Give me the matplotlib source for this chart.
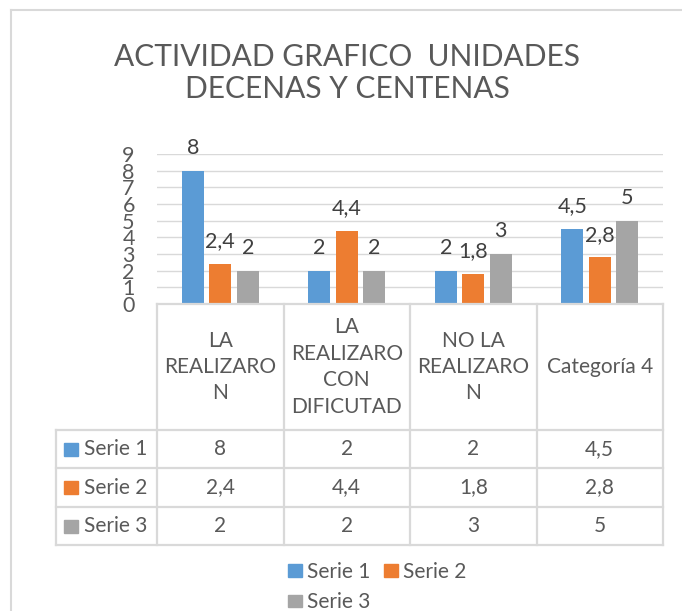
import matplotlib
matplotlib.use("Agg")
import matplotlib.pyplot as plt
from matplotlib.patches import Patch, Rectangle
from matplotlib.lines import Line2D
import numpy as np

# ---------------- DATA ----------------
title = "ACTIVIDAD GRAFICO  UNIDADES\nDECENAS Y CENTENAS"
categories = ["LA\nREALIZARO\nN", "LA\nREALIZARO\nCON\nDIFICUTAD",
              "NO LA\nREALIZARO\nN", "Categoría 4"]
series_names = ["Serie 1", "Serie 2", "Serie 3"]
serie1 = [8, 2, 2, 4.5]
serie2 = [2.4, 4.4, 1.8, 2.8]
serie3 = [2, 2, 3, 5]
yticks = list(range(0, 10))

# ---------------- STYLE ----------------
colors = ["#5B9BD5", "#ED7D31", "#A5A5A5"]
grid_col = "#D9D9D9"
text_col = "#595959"
label_col = "#404040"
plt.rcParams["font.family"] = ["Lato", "DejaVu Sans"]

W, H = 682, 611
fig = plt.figure(figsize=(W / 100, H / 100), dpi=100)


def box(left, top, right, bottom):
    # pixel box -> figure fraction rect
    return [left / W, 1 - bottom / H, (right - left) / W, (bottom - top) / H]


def fmt(v):
    return f"{v:g}".replace(".", ",")


# chart border
fig.add_artist(Line2D([11 / W, 11 / W], [-0.1, 1 - 10 / H], color=grid_col, lw=1.5))
fig.add_artist(Line2D([11 / W, 1.1], [1 - 10 / H, 1 - 10 / H], color=grid_col, lw=1.5))

fig.text(347 / W, 1 - 73 / H, title, ha="center", va="center", fontsize=21.5,
         color=text_col, linespacing=1.14)

# ---------------- BARS ----------------
ax = fig.add_axes(box(157, 154, 663, 304))
x = np.arange(len(categories))
data = [serie1, serie2, serie3]
bw = 0.174
step = 0.217
for i, (vals, col) in enumerate(zip(data, colors)):
    pos = x + (i - 1) * step
    ax.bar(pos, vals, width=bw, color=col, zorder=3)
    for px, v in zip(pos, vals):
        ax.annotate(fmt(v), (px, v), xytext=(0, 12), textcoords="offset points",
                    ha="center", va="baseline", fontsize=15.5, color=label_col)

ax.set_xlim(-0.5, len(categories) - 0.5)
ax.set_ylim(0, 9)
ax.set_yticks(yticks)
# labels are crowded (16px per unit), as in the original chart
ax.set_yticklabels([str(t) for t in yticks], fontsize=15.5, color=text_col)
ax.tick_params(axis="y", length=0, pad=16)
ax.set_xticks([])
for s in ax.spines.values():
    s.set_visible(False)
ax.grid(axis="y", color=grid_col, lw=1, zorder=0)
ax.set_axisbelow(True)
ax.patch.set_alpha(0)

# ---------------- DATA TABLE ----------------
tax = fig.add_axes(box(56, 304, 663, 545))
cat_px = 506 / len(categories)
left_x = -0.5 - (157 - 56) / cat_px
tax.set_xlim(left_x, len(categories) - 0.5)
tax.set_ylim(241, 0)
tax.axis("off")
row_edges = [0, 126, 164, 203, 241]
col_edges = [-0.5 + k for k in range(len(categories) + 1)]
lw_t = 1.6
for xe in col_edges:
    tax.plot([xe, xe], [0, 241], color=grid_col, lw=lw_t, clip_on=False)
tax.plot([left_x, left_x], [row_edges[1], 241], color=grid_col, lw=lw_t, clip_on=False)
tax.plot([-0.5, col_edges[-1]], [0, 0], color=grid_col, lw=lw_t, clip_on=False)
for ye in row_edges[1:]:
    tax.plot([left_x, col_edges[-1]], [ye, ye], color=grid_col, lw=lw_t, clip_on=False)

for j, cat in enumerate(categories):
    tax.text(j, row_edges[1] / 2, cat, ha="center", va="center", fontsize=15,
             color=text_col, linespacing=1.4)

for i, (name, vals, col) in enumerate(zip(series_names, data, colors)):
    yc = (row_edges[i + 1] + row_edges[i + 2]) / 2
    sq_w = 14 / cat_px
    tax.add_patch(Rectangle((left_x + 8 / cat_px, yc - 6.5), sq_w, 13, color=col))
    tax.text(left_x + 28 / cat_px, yc, name, ha="left", va="center", fontsize=15,
             color=text_col)
    for j, v in enumerate(vals):
        tax.text(j, yc, fmt(v), ha="center", va="center", fontsize=15, color=text_col)

# ---------------- LEGEND ----------------
handles = [Patch(color=c, label=n) for c, n in zip(colors, series_names)]
order = [0, 2, 1]
fig.legend([handles[k] for k in order], [series_names[k] for k in order],
           ncol=2, loc="upper left", bbox_to_anchor=(288 / W, 1 - 562 / H),
           frameon=False, fontsize=15, labelcolor=text_col,
           handlelength=0.68, handleheight=0.55, handletextpad=0.25,
           columnspacing=0.62, labelspacing=0.5, borderpad=0, borderaxespad=0)

fig.savefig("out.png", dpi=100)
